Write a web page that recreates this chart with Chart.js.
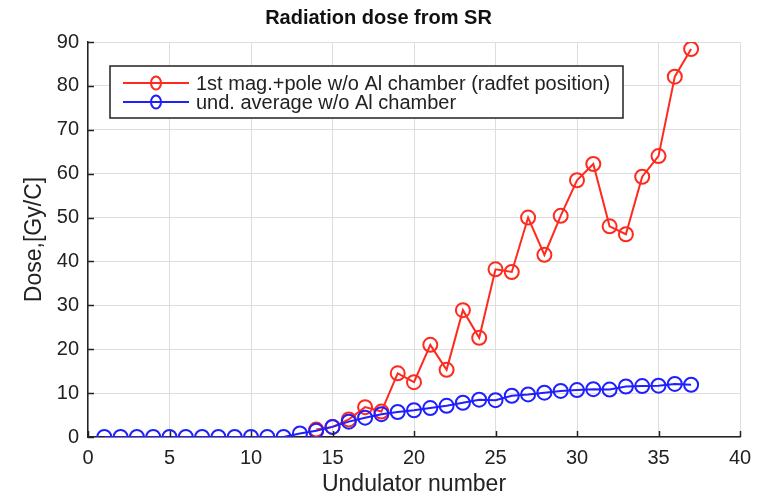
<!DOCTYPE html>
<html>
<head>
<meta charset="utf-8">
<script src="https://cdn.jsdelivr.net/npm/chart.js@4.4.0/dist/chart.umd.min.js"></script>
<style>
  html, body { margin: 0; padding: 0; background: #fff; }
  #wrap { width: 770px; height: 498px; }
</style>
</head>
<body>
<div id="wrap"><canvas id="doseChart" width="770" height="498"></canvas></div>
<script>
// undulator index (x) and dose values
const undulators = [1, 2, 3, 4, 5, 6, 7, 8, 9, 10, 11, 12, 13, 14, 15, 16, 17, 18, 19,
  20, 21, 22, 23, 24, 25, 26, 27, 28, 29, 30, 31, 32, 33, 34, 35, 36, 37];
const firstMagDose = [null, null, null, null, null, null, null, null, null, null, null, null, null,
  1.7, 2.3, 4.0, 6.8, 5.8, 14.5, 12.5, 21.0, 15.3, 28.9, 22.6, 38.2, 37.6, 50.0, 41.5,
  50.4, 58.5, 62.2, 48.0, 46.2, 59.3, 64.0, 82.1, 88.4];
const undAverageDose = [0, 0, 0, 0, 0, 0, 0, 0, 0, 0, 0, 0, 0.8, 1.4, 2.3, 3.5, 4.4, 5.2,
  5.7, 6.1, 6.6, 7.1, 7.8, 8.5, 8.4, 9.4, 9.7, 10.1, 10.5, 10.7, 10.9, 10.8, 11.5, 11.6,
  11.7, 12.1, 11.9];
const xTicks = [0, 5, 10, 15, 20, 25, 30, 35, 40];
const yTicks = [0, 10, 20, 30, 40, 50, 60, 70, 80, 90];

const labelA = '1st mag.+pole w/o Al chamber (radfet position)';
const labelB = 'und. average w/o Al chamber';
const RED = '#ff2a1e';
const BLUE = '#1f1fff';
const FONT = '"Liberation Sans", Arial, sans-serif';

const toPoints = vals => undulators.map((u, i) => ({ x: u, y: vals[i] }));

// MATLAB style: ticks pointing inward + legend box inside the axes
const matlabAxes = {
  id: 'matlabAxes',
  afterDatasetsDraw(chart) {
    const { ctx, chartArea: a, scales } = chart;
    ctx.save();
    ctx.strokeStyle = '#222';
    ctx.lineWidth = 1.5;
    ctx.beginPath();
    xTicks.forEach(t => {
      const px = Math.round(scales.x.getPixelForValue(t)) + 0.5;
      ctx.moveTo(px, a.bottom);
      ctx.lineTo(px, a.bottom - 6);
    });
    yTicks.forEach(t => {
      const py = Math.round(scales.y.getPixelForValue(t)) + 0.5;
      ctx.moveTo(a.left, py);
      ctx.lineTo(a.left + 6, py);
    });
    ctx.stroke();

    // legend
    const box = { x: 110, y: 66, w: 513, h: 52 };
    ctx.fillStyle = '#fff';
    ctx.fillRect(box.x, box.y, box.w, box.h);
    ctx.lineWidth = 1.5;
    ctx.strokeStyle = '#222';
    ctx.strokeRect(box.x, box.y, box.w, box.h);
    ctx.font = '20px ' + FONT;
    ctx.textBaseline = 'middle';
    chart.data.datasets.forEach((ds, i) => {
      const cy = box.y + 17 + i * 19;
      ctx.strokeStyle = ds.borderColor;
      ctx.lineWidth = 2;
      ctx.beginPath();
      ctx.moveTo(123, cy);
      ctx.lineTo(189, cy);
      ctx.stroke();
      ctx.beginPath();
      ctx.ellipse(156, cy, 5, 6.5, 0, 0, Math.PI * 2);
      ctx.stroke();
      ctx.fillStyle = '#222';
      ctx.fillText(ds.label, 196, cy + 1);
    });
    ctx.restore();
  }
};

new Chart(document.getElementById('doseChart'), {
  type: 'line',
  data: {
    datasets: [
      {
        label: labelA,
        data: toPoints(firstMagDose),
        borderColor: RED,
        backgroundColor: 'rgba(0,0,0,0)',
        borderWidth: 2,
        pointRadius: 7,
        pointBorderWidth: 2,
        pointBackgroundColor: 'rgba(0,0,0,0)',
        pointBorderColor: RED,
        spanGaps: false,
        order: 2
      },
      {
        label: labelB,
        data: toPoints(undAverageDose),
        borderColor: BLUE,
        backgroundColor: 'rgba(0,0,0,0)',
        borderWidth: 2,
        pointRadius: 7,
        pointBorderWidth: 2,
        pointBackgroundColor: 'rgba(0,0,0,0)',
        pointBorderColor: BLUE,
        order: 1
      }
    ]
  },
  options: {
    responsive: false,
    animation: false,
    layout: { padding: { left: 17, right: 30, top: 0, bottom: 0 } },
    plugins: {
      legend: { display: false },
      tooltip: { enabled: false },
      title: {
        display: true,
        text: 'Radiation dose from SR',
        color: '#111',
        font: { family: FONT, size: 20, weight: 'bold' },
        padding: { top: 6, bottom: 12 }
      }
    },
    scales: {
      x: {
        type: 'linear',
        min: 0,
        max: 40,
        afterBuildTicks: s => { s.ticks = xTicks.map(v => ({ value: v })); },
        afterFit: s => { s.height = 61; },
        border: { display: true, color: '#222', width: 1.5 },
        grid: { color: '#dedede', lineWidth: 1, drawTicks: false },
        ticks: { color: '#222', padding: 9, font: { family: FONT, size: 20 } },
        title: {
          display: true,
          text: 'Undulator number',
          color: '#222',
          font: { family: FONT, size: 23 },
          padding: { top: 0, bottom: 0 }
        }
      },
      y: {
        min: 0,
        max: 90,
        afterBuildTicks: s => { s.ticks = yTicks.map(v => ({ value: v })); },
        afterFit: s => { s.width = 71; },
        border: { display: true, color: '#222', width: 1.5 },
        grid: { color: '#dedede', lineWidth: 1, drawTicks: false },
        ticks: { color: '#222', padding: 9, font: { family: FONT, size: 20 } },
        title: {
          display: true,
          text: 'Dose,[Gy/C]',
          color: '#222',
          font: { family: FONT, size: 23 },
          padding: { top: 4, bottom: 4 }
        }
      }
    }
  },
  plugins: [matlabAxes]
});
</script>
</body>
</html>
